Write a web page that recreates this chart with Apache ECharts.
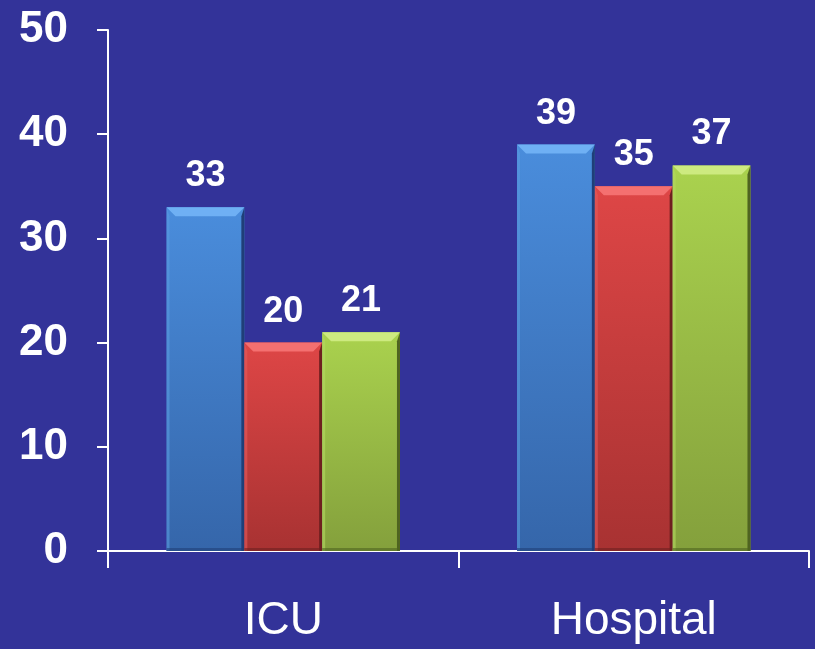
<!DOCTYPE html>
<html>
<head>
<meta charset="utf-8">
<script src="https://cdn.jsdelivr.net/npm/echarts@6/dist/echarts.min.js"></script>
<style>
  html, body { margin: 0; padding: 0; background: #333399; }
  #chart { width: 815px; height: 649px; }
</style>
</head>
<body>
<div id="chart"></div>
<script>
// Categories and the three bar series (percent)
const categories = ['ICU', 'Hospital'];
const blueValues = [33, 39];
const redValues = [20, 35];
const greenValues = [21, 37];
const yTickValues = [0, 10, 20, 30, 40, 50];

const FONT = '"Liberation Sans", Arial, sans-serif';

// Palettes for the bevelled bars: body top / body bottom / top facet / shaded edge / lit left edge
const palettes = [
  { top: '#4a8ddc', bottom: '#3566aa', facet: '#6fb0f4', edge: '#1f3f78', left: '#5a9ae0' },
  { top: '#de4646', bottom: '#a83232', facet: '#f47070', edge: '#6e1f1f', left: '#e25a5a' },
  { top: '#aad24e', bottom: '#84a03c', facet: '#cdea80', edge: '#4f6420', left: '#b4d860' }
];

const BAR_RATIO = 0.222;  // bar width as a share of the category band
const BEVEL = 9;

function bevelBar(idx) {
  const pal = palettes[idx];
  return function (params, api) {
    const cat = api.value(0);
    const val = api.value(1);
    const topPt = api.coord([cat, val]);
    const basePt = api.coord([cat, 0]);
    const bandW = api.size([1, 0])[0];
    const bw = bandW * BAR_RATIO;
    const x0 = topPt[0] - 1.5 * bw + idx * bw;
    const x1 = x0 + bw;
    const y0 = topPt[1];
    const y1 = basePt[1];
    const b = Math.min(BEVEL, (y1 - y0) / 2);
    return {
      type: 'group',
      children: [
        {
          type: 'rect',
          shape: { x: x0, y: y0, width: bw, height: y1 - y0 },
          style: {
            fill: new echarts.graphic.LinearGradient(0, 0, 0, 1, [
              { offset: 0, color: pal.top },
              { offset: 1, color: pal.bottom }
            ])
          }
        },
        {
          // top facet
          type: 'polygon',
          shape: { points: [[x0, y0], [x1, y0], [x1 - b, y0 + b], [x0 + b, y0 + b]] },
          style: { fill: pal.facet }
        },
        {
          // left facet
          type: 'polygon',
          shape: { points: [[x0, y0], [x0 + 3, y0 + b], [x0 + 3, y1], [x0, y1]] },
          style: { fill: pal.left, opacity: 0.6 }
        },
        {
          // right shaded edge
          type: 'polygon',
          shape: { points: [[x1, y0], [x1, y1], [x1 - 3, y1], [x1 - 3, y0 + b]] },
          style: { fill: pal.edge }
        },
        {
          // bottom shaded edge
          type: 'rect',
          shape: { x: x0, y: y1 - 3, width: bw, height: 3 },
          style: { fill: pal.edge, opacity: 0.6 }
        },
        {
          type: 'text',
          style: {
            text: String(val),
            x: (x0 + x1) / 2,
            y: y0 - 13,
            align: 'center',
            verticalAlign: 'bottom',
            fill: '#ffffff',
            font: 'bold 36px ' + FONT
          }
        }
      ]
    };
  };
}

function seriesFor(values, idx) {
  return {
    type: 'custom',
    renderItem: bevelBar(idx),
    encode: { x: 0, y: 1 },
    data: values.map((v, i) => [i, v]),
    clip: false
  };
}

const chart = echarts.init(document.getElementById('chart'), null, { renderer: 'canvas' });
chart.setOption({
  backgroundColor: '#333399',
  animation: false,
  grid: { left: 108, right: 6, top: 30, bottom: 98, containLabel: false },
  xAxis: {
    type: 'category',
    data: categories,
    boundaryGap: true,
    axisLine: { show: true, lineStyle: { color: '#ffffff', width: 2 } },
    axisTick: { show: true, length: 17, lineStyle: { color: '#ffffff', width: 2 } },
    axisLabel: {
      color: '#ffffff',
      fontSize: 46,
      fontFamily: FONT,
      margin: 47
    },
    splitLine: { show: false }
  },
  yAxis: {
    type: 'value',
    min: yTickValues[0],
    max: yTickValues[yTickValues.length - 1],
    interval: 10,
    axisLine: { show: true, lineStyle: { color: '#ffffff', width: 2 } },
    axisTick: { show: true, length: 11, lineStyle: { color: '#ffffff', width: 2 } },
    axisLabel: {
      color: '#ffffff',
      fontSize: 44,
      fontWeight: 'bold',
      fontFamily: FONT,
      margin: 40
    },
    splitLine: { show: false }
  },
  series: [
    seriesFor(blueValues, 0),
    seriesFor(redValues, 1),
    seriesFor(greenValues, 2)
  ]
});
</script>
</body>
</html>
